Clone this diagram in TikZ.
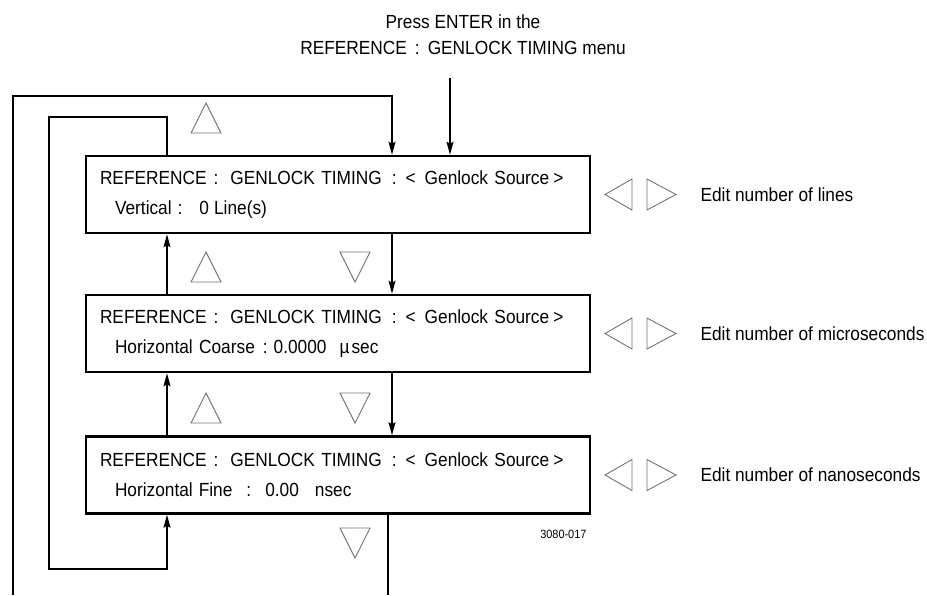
\documentclass[tikz,border=0pt]{standalone}
\usepackage{fontspec}
\setmainfont{Liberation Sans}[FakeStretch=0.91]
\usetikzlibrary{arrows.meta, calc, positioning}
\newcommand{\gap}[1]{\hspace{#1pt}}

\begin{document}
\begin{tikzpicture}[x=1pt, y=-1pt, font=\fontsize{19}{30}\selectfont,
  menu/.style={draw, line width=2.6pt, minimum width=504pt, minimum height=77pt, text width=476pt, inner xsep=14pt, align=left},
  wire/.style={line width=1.3pt},
  tip/.style={-{Stealth[length=13pt, width=7pt, inset=2pt]}},
  key/.style={draw=black!55, line width=0.9pt, line join=miter}]
\useasboundingbox (0,0) rectangle (927,595);
  \node[align=center, font=\fontsize{19}{26}\selectfont] (press) at (463,35) {Press ENTER in the\\REFERENCE\gap{8}:\gap{8}GENLOCK TIMING menu};
  \foreach \n/\yy/\val/\unit in {1/194.5/{Vertical\gap{6}:\gap{17}0\gap{5}Line(s)}/lines,
      2/333.5/{Horizontal Coarse\gap{8}:\gap{6}0.0000\gap{13}µ\gap{2}sec}/microseconds,
      3/475/{Horizontal\gap{6}Fine\gap{14}:\gap{14}0.00\gap{16}nsec}/nanoseconds}{
	\node[menu] (m\n) at (338,\yy) {REFERENCE\gap{7}:\gap{12}GENLOCK TIMING\gap{10}:\gap{9}<\gap{9}Genlock Source\gap{4}>\\\hspace*{15pt}\val};
	\node[anchor=west] (e\n) at (697,\yy) {Edit number of \unit};
	\draw[key] (605,\yy) -- ++(27,-15.5) -- ++(0,31) -- cycle;
	\draw[key] (676,\yy) -- ++(-29,-15.5) -- ++(0,31) -- cycle;
	};
  \foreach \yy in {103,252,393}{
	\draw[key] (206,\yy) -- ++(15,30) -- ++(-30,0) -- cycle;
	};
  \foreach \yy in {252,393,528}{
	\draw[key] (340,\yy) -- ++(30,0) -- ++(-15,30) -- cycle;
	};
  \node[anchor=east, font=\fontsize{12}{14}\selectfont] (fig) at (590,534) {3080-017};
  \coordinate (dn) at (392,0);
  \coordinate (upx) at (167,0);
  \coordinate (enter) at (450,78);
  \coordinate (top) at (13,96);
  \coordinate (outer) at (13,595);
  \coordinate (inner) at (49,117);
  \coordinate (low) at (49,569);
  \coordinate (exit) at (388,595);
  \draw[wire, tip] (enter) -- (m1.north -| enter);
  \draw[wire, tip] (m1.south -| dn) -- (m2.north -| dn);
  \draw[wire, tip] (m2.south -| dn) -- (m3.north -| dn);
  \draw[wire, tip] (m2.north -| upx) -- (m1.south -| upx);
  \draw[wire, tip] (m3.north -| upx) -- (m2.south -| upx);
  \draw[wire, tip] (outer) -- (top) -| (m1.north -| dn);
  \draw[wire, tip] (m1.north -| upx) |- (inner) -- (low) -| (m3.south -| upx);
  \draw[wire] (m3.south -| exit) -- (exit);
\end{tikzpicture}
\end{document}
